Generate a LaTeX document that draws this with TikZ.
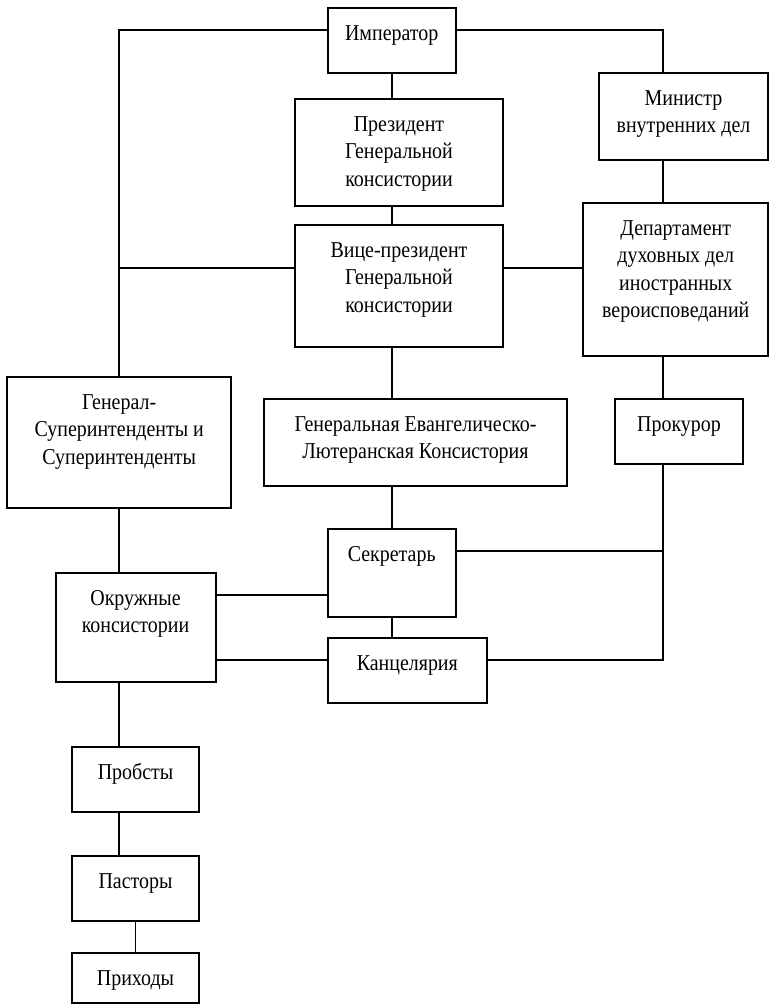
\documentclass[tikz,border=0pt]{standalone}
\usepackage{fontspec}
\setmainfont{Liberation Serif}[FakeStretch=0.88]
\tikzset{
    box/.style={draw, line width=1.5pt, inner sep=0pt}, % the boxes of the scheme
    txt/.style={align=center, anchor=base, yshift=-25.1pt-(#1-1)*20.6pt, inner sep=0pt,
                font=\fontsize{17}{20.6}\selectfont}, % #1 = number of lines, text sits near the top
    txt/.default=1,
}
\tikzstyle{link} = [line width=1.2pt]

\begin{document}
\begin{tikzpicture}[x=0.75pt, y=-0.75pt]
    \useasboundingbox (0,0) rectangle (770,1005);
    \coordinate (axis) at (391.7,0);
    \coordinate (rail) at (663,0);

    \node[box, minimum width=96pt, minimum height=48.75pt, label={[txt]north:Император}] (imp) at (391.7,40.5) {};
    \node[box, minimum width=126.75pt, minimum height=65.25pt, label={[txt=2]north:Министр\\внутренних дел}] (min) at (683.5,116.5) {};
    \node[box, minimum width=156pt, minimum height=80.25pt, label={[txt=3]north:Президент\\Генеральной\\консистории}] (pre) at (399,152.5) {};
    \node[box, minimum width=156pt, minimum height=91.5pt, label={[txt=3]north:Вице-президент\\Генеральной\\консистории}] (vic) at (399,286) {};
    \node[box, minimum width=138.4pt, minimum height=114.75pt, label={[txt=4]north:Департамент\\духовных дел\\иностранных\\вероисповеданий}] (dep) at (675.75,279.5) {};
    \node[box, minimum width=167.7pt, minimum height=98.25pt, label={[txt=3]north:Генерал-\\Суперинтенденты и\\Суперинтенденты}] (gen) at (119.2,442.5) {};
    \node[box, minimum width=227.25pt, minimum height=65.25pt, label={[txt=2]north:Генеральная Евангелическо-\\Лютеранская Консистория}] (gev) at (415.5,442.5) {};
    \node[box, minimum width=96pt, minimum height=48.75pt, label={[txt]north:Прокурор}] (pro) at (679,431.5) {};
    \node[box, minimum width=96pt, minimum height=66pt, label={[txt]north:Секретарь}] (sek) at (391.7,573) {};
    \node[box, minimum width=120pt, minimum height=81.75pt, label={[txt=2]north:Окружные\\консистории}] (okr) at (135.5,627.5) {};
    \node[box, minimum width=119.5pt, minimum height=48.75pt, label={[txt]north:Канцелярия}] (kan) at (407.3,670.5) {};
    \node[box, minimum width=95.25pt, minimum height=48.75pt, label={[txt]north:Пробсты}] (prb) at (135.5,779.5) {};
    \node[box, minimum width=95.25pt, minimum height=48.75pt, label={[txt]north:Пасторы}] (pas) at (135.5,888.5) {};
    \node[box, minimum width=95.25pt, minimum height=37.5pt, label={[txt]north:Приходы}] (pri) at (135.5,978) {};

    % top of the scheme
    \draw[link] (imp.west |- 0,30) -| (gen.north);
    \draw[link] (imp.east |- 0,30) -| (rail |- min.north);
    \draw[link] (imp.south) -- (axis |- pre.north);
    \draw[link] (axis |- pre.south) -- (axis |- vic.north);
    \draw[link] (gen.north |- 0,268) -- (vic.west |- 0,268);
    \draw[link] (vic.east |- 0,268) -- (dep.west |- 0,268);
    \draw[link] (rail |- min.south) -- (rail |- dep.north);
    \draw[link] (rail |- dep.south) -- (rail |- pro.north);
    % consistory and its offices
    \draw[link] (axis |- vic.south) -- (axis |- gev.north);
    \draw[link] (axis |- gev.south) -- (sek.north);
    \draw[link] (sek.south) -- (sek.south |- kan.north);
    \draw[link] (rail |- pro.south) |- (kan.east |- 0,660);
    \draw[link] (sek.east |- 0,551) -- (rail |- 0,551);
    \draw[link] (okr.east |- 0,595) -- (sek.west |- 0,595);
    \draw[link] (okr.east |- 0,660) -- (kan.west |- 0,660);
    % down to the parishes
    \draw[link] (gen.south) -- (gen.south |- okr.north);
    \draw[link] (gen.south |- okr.south) -- (gen.south |- prb.north);
    \draw[link] (gen.south |- prb.south) -- (gen.south |- pas.north);
    \draw[link] (pas.south) -- (pri.north);
\end{tikzpicture}
\end{document}
